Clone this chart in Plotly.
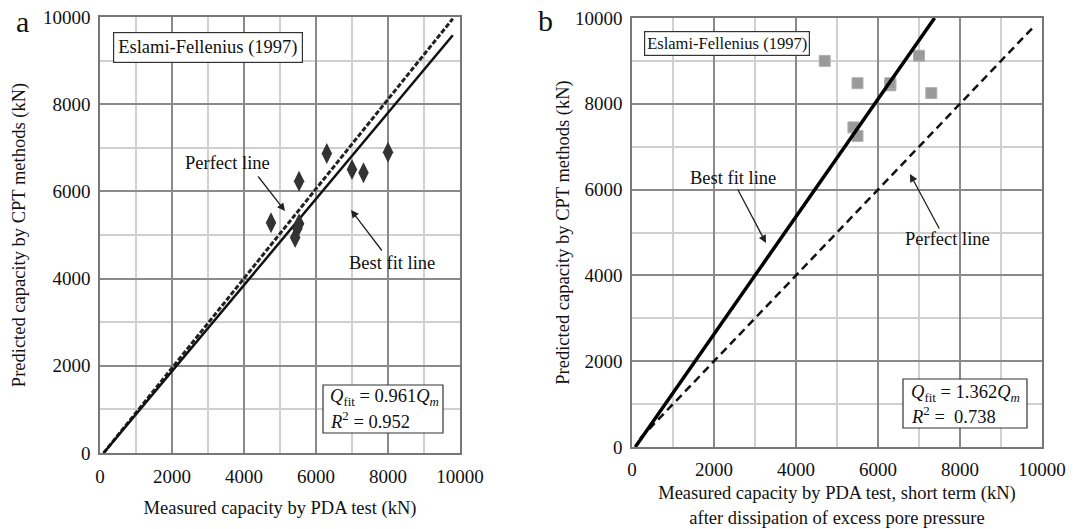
import plotly.graph_objects as go

# ---- data ----
a_x = [4750, 5530, 6300, 7000, 7320, 8000, 5420, 5530, 5480]
a_y = [5280, 6230, 6870, 6500, 6430, 6900, 4940, 5260, 5150]
a_perfect_x = [100, 9800]
a_perfect_y = [0, 9960]
a_fit_x = [100, 9800]
a_fit_y = [0, 9580]

b_x = [4700, 5500, 6300, 7000, 7300, 5400, 5500, 6300]
b_y = [9000, 8480, 8430, 9120, 8250, 7450, 7250, 8480]
b_perfect_x = [200, 9800]
b_perfect_y = [200, 9800]
b_fit_x = [80, 7380]
b_fit_y = [0, 10000]

ticks = [0, 2000, 4000, 6000, 8000, 10000]

FONT = "Liberation Serif"
W, H = 1078, 529

fig = go.Figure()
fig.add_trace(go.Scatter(x=a_perfect_x, y=a_perfect_y, mode="lines",
                         line=dict(color="#222", width=3, dash="5px,2px"), xaxis="x", yaxis="y"))
fig.add_trace(go.Scatter(x=a_fit_x, y=a_fit_y, mode="lines",
                         line=dict(color="#111", width=2.5), xaxis="x", yaxis="y"))
fig.add_trace(go.Scatter(x=a_x, y=a_y, mode="markers",
                         marker=dict(symbol="diamond-tall", size=15, color="#333"), xaxis="x", yaxis="y"))

fig.add_trace(go.Scatter(x=b_x, y=b_y, mode="markers",
                         marker=dict(symbol="square", size=11, color="#9a9a9a",
                                     line=dict(color="#b0b0b0", width=1)), xaxis="x2", yaxis="y2"))
fig.add_trace(go.Scatter(x=b_perfect_x, y=b_perfect_y, mode="lines",
                         line=dict(color="#111", width=2.5, dash="8px,5px"), xaxis="x2", yaxis="y2"))
fig.add_trace(go.Scatter(x=b_fit_x, y=b_fit_y, mode="lines",
                         line=dict(color="#000", width=3.5), xaxis="x2", yaxis="y2"))


def ax(domain, title, anchor, standoff, ticklen):
    return dict(domain=domain, range=[0, 10000], tickvals=ticks, ticktext=[str(t) for t in ticks],
                showgrid=True, gridcolor="#8a8a8a", gridwidth=1.5,
                minor=dict(dtick=1000, tick0=0, showgrid=True, gridcolor="#d0d0d0", gridwidth=1.5),
                showline=True, linecolor="#777", linewidth=1.5, mirror=True,
                zeroline=False, ticks="outside", ticklen=ticklen, tickcolor="rgba(0,0,0,0)",
                tickfont=dict(family=FONT, size=19, color="#111"),
                title=dict(text=title, font=dict(family=FONT, size=18.5, color="#111"), standoff=standoff),
                anchor=anchor, fixedrange=True, automargin=False)


def px_x(p):
    return p / W


def px_y(p):
    return 1 - p / H


layout = dict(
    width=W, height=H, margin=dict(l=0, r=0, t=0, b=0, autoexpand=False),
    paper_bgcolor="white", plot_bgcolor="white", showlegend=False,
    xaxis=ax([px_x(100), px_x(460)], "Measured capacity by PDA test (kN)", "y", 16, 5),
    yaxis=ax([px_y(453), px_y(17)], "Predicted capacity by CPT methods (kN)", "x", 12, 4),
    xaxis2=ax([px_x(632), px_x(1042)],
              "Measured capacity by PDA test, short term (kN)<br>after dissipation of excess pore pressure",
              "y2", 8, 4),
    yaxis2=ax([px_y(447), px_y(18)], "Predicted capacity by CPT methods (kN)", "x2", 0, 4),
)
fig.update_layout(**layout)

# equation box frames
shapes = [
    dict(type="rect", xref="paper", yref="paper", x0=px_x(323), x1=px_x(443), y0=px_y(433), y1=px_y(385),
         line=dict(color="#333", width=1.2), fillcolor="white", layer="above"),
    dict(type="rect", xref="paper", yref="paper", x0=px_x(903), x1=px_x(1027), y0=px_y(428), y1=px_y(379),
         line=dict(color="#333", width=1.2), fillcolor="white", layer="above"),
]
fig.update_layout(shapes=shapes)

anns = []
# panel labels
anns.append(dict(text="a", x=px_x(22), y=px_y(22), xref="paper", yref="paper", showarrow=False,
                 xanchor="center", yanchor="middle", font=dict(family=FONT, size=30, color="#111")))
anns.append(dict(text="b", x=px_x(545), y=px_y(20), xref="paper", yref="paper", showarrow=False,
                 xanchor="center", yanchor="middle", font=dict(family=FONT, size=30, color="#111")))
# method boxes
anns.append(dict(text="Eslami-Fellenius (1997)", x=px_x(208), y=px_y(48), xref="paper", yref="paper",
                 xanchor="center", yanchor="middle",
                 showarrow=False, font=dict(family=FONT, size=18.5, color="#111"),
                 bordercolor="#333", borderwidth=1.2, borderpad=4, bgcolor="white"))
anns.append(dict(text="Eslami-Fellenius (1997)", x=px_x(727), y=px_y(43), xref="paper", yref="paper",
                 xanchor="center", yanchor="middle",
                 showarrow=False, font=dict(family=FONT, size=16.5, color="#111"),
                 bordercolor="#333", borderwidth=1.2, borderpad=2, bgcolor="white"))


def eq(px, py, txt):
    return dict(text=txt, x=px_x(px), y=px_y(py), xref="paper", yref="paper", showarrow=False,
                xanchor="left", yanchor="middle", font=dict(family=FONT, size=18.5, color="#111"))

# equation texts
anns.append(eq(328, 397, "<i>Q</i><sub>fit</sub> = 0.961<i>Q<sub>m</sub></i>"))
anns.append(eq(328, 420, "<i>R</i><sup>2</sup> = 0.952"))
anns.append(eq(909, 393, "<i>Q</i><sub>fit</sub> = 1.362<i>Q<sub>m</sub></i>"))
anns.append(eq(909, 415, "<i>R</i><sup>2</sup> =  0.738"))

# arrows + labels (data coordinates)
def arrow(xr, yr, tail, head):
    return dict(text="", x=head[0], y=head[1], ax=tail[0], ay=tail[1], xref=xr, yref=yr,
                axref=xr, ayref=yr, showarrow=True, arrowhead=2, arrowsize=1.2,
                arrowwidth=1.3, arrowcolor="#222", standoff=0, startstandoff=0)


def label(xr, yr, pos, txt):
    return dict(text=txt, x=pos[0], y=pos[1], xref=xr, yref=yr, showarrow=False,
                xanchor="center", yanchor="middle",
                font=dict(family=FONT, size=18.5, color="#111"))

anns.append(label("x", "y", (3528, 6651), "Perfect line"))
anns.append(arrow("x", "y", (4361, 6376), (5139, 5550)))
anns.append(label("x", "y", (8111, 4358), "Best fit line"))
anns.append(arrow("x", "y", (7861, 4610), (6972, 5573)))

anns.append(label("x2", "y2", (2463, 6270), "Best fit line"))
anns.append(arrow("x2", "y2", (2561, 6037), (3268, 4755)))
anns.append(label("x2", "y2", (7707, 4848), "Perfect line"))
anns.append(arrow("x2", "y2", (7512, 5058), (6780, 6364)))

fig.update_layout(annotations=anns)
fig.write_html("out.html")
